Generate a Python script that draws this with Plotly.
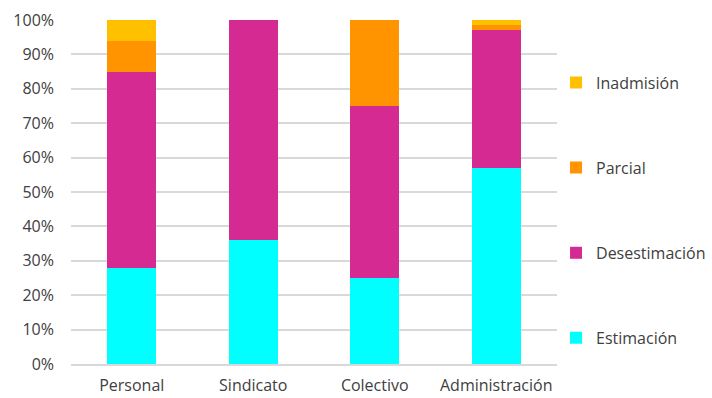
import plotly.graph_objects as go

categories = ["Personal", "Sindicato", "Colectivo", "Administración"]
estimacion = [28, 36, 25, 57]
desestimacion = [57, 64, 50, 40]
parcial = [9, 0, 25, 1.5]
inadmision = [6, 0, 0, 1.5]

series = [
    ("Estimación", estimacion, "#00FFFF", "legend5"),
    ("Desestimación", desestimacion, "#D62A93", "legend4"),
    ("Parcial", parcial, "#FF9300", "legend3"),
    ("Inadmisión", inadmision, "#FFC000", "legend2"),
]

fig = go.Figure()
for name, vals, color, leg in series:
    fig.add_trace(go.Bar(x=categories, y=vals, name=name, marker=dict(color=color, line=dict(width=0)),
                         legend=leg))

font = dict(family="Open Sans, sans-serif", size=16, color="#404040")
leg_common = dict(x=0.998, xanchor="left", yanchor="middle", font=font, bgcolor="rgba(0,0,0,0)")
fig.update_layout(
    barmode="stack",
    bargap=0.595,
    width=712, height=398,
    margin=dict(l=71, r=155, t=20, b=34, autoexpand=False),
    paper_bgcolor="white", plot_bgcolor="white",
    font=font,
    legend2=dict(y=0.818, **leg_common),
    legend3=dict(y=0.571, **leg_common),
    legend4=dict(y=0.323, **leg_common),
    legend5=dict(y=0.076, **leg_common),
    yaxis=dict(range=[0, 100], dtick=10, ticksuffix="%", showgrid=True, gridcolor="#D9D9D9",
               gridwidth=1.5, zeroline=False, ticks="", ticklabelstandoff=16, showline=False),
    xaxis=dict(showline=True, linecolor="#D9D9D9", linewidth=1.5, ticks="", ticklabelstandoff=6),
)
fig.write_html("out.html", config={"displayModeBar": False},
               post_script="document.body.style.margin='0';document.body.style.overflow='hidden';")
